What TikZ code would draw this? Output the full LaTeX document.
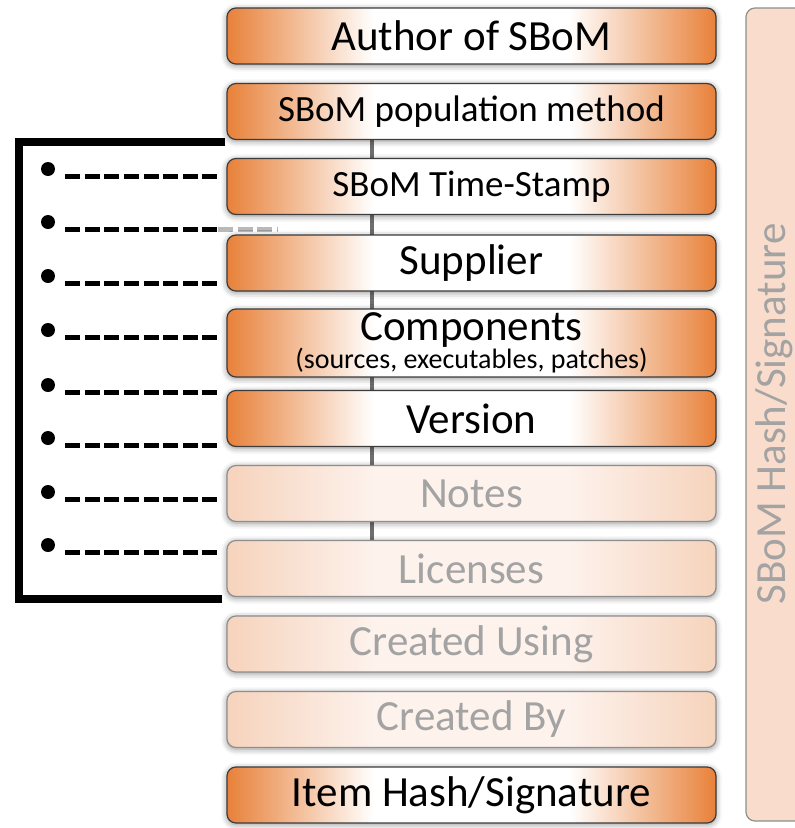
\documentclass[tikz,border=0pt]{standalone}
\usepackage{fontspec}
\setmainfont{Carlito}
\usepackage{xcolor}
\definecolor{SbomOrange}{HTML}{E8813A}
\definecolor{SbomPale}{HTML}{F6D3BC}
\definecolor{SbomPaleMid}{HTML}{FDF2EC}
\definecolor{ColPeach}{HTML}{F9DCCB}
\definecolor{ColPeachMid}{HTML}{FCEDE5}
\definecolor{EdgeGray}{HTML}{3C3C3C}
\definecolor{FadeGray}{HTML}{8E8E8E}
\definecolor{TextGray}{HTML}{A3A3A3}
\definecolor{SpineGray}{HTML}{6E6E6E}
\usepackage{tikz}
\usetikzlibrary{backgrounds, shadows.blur}
\pgfdeclarehorizontalshading{rowhot}{100bp}{color(0bp)=(SbomOrange); color(25bp)=(SbomOrange); color(40bp)=(white); color(60bp)=(white); color(75bp)=(SbomOrange); color(100bp)=(SbomOrange)}
\pgfdeclarehorizontalshading{rowfade}{100bp}{color(0bp)=(SbomPale); color(25bp)=(SbomPale); color(40bp)=(SbomPaleMid); color(60bp)=(SbomPaleMid); color(75bp)=(SbomPale); color(100bp)=(SbomPale)}
\newcommand{\tightlines}{\lineskiplimit=-100pt\relax}

\begin{document}
\begin{tikzpicture}[x=1pt, y=-1pt,
  rowbox/.style={draw=EdgeGray, line width=1.2pt, rounded corners=9pt,
    minimum width=489pt, minimum height=56pt, inner sep=0pt,
    shade, shading=rowhot,
    blur shadow={shadow xshift=0pt, shadow yshift=-1.5pt, shadow blur radius=6pt, shadow opacity=45},
    font=\fontsize{43}{45}\selectfont},
  fadebox/.style={rowbox, draw=FadeGray, shading=rowfade, text=TextGray},
  colbox/.style={draw=FadeGray, line width=1.2pt, rounded corners=9pt, inner sep=0pt,
    top color=ColPeach, middle color=ColPeachMid, bottom color=ColPeach},
  leaddot/.style={circle, fill=black, inner sep=0pt, minimum size=14pt},
  dashline/.style={line width=5pt, dash pattern=on 15pt off 4.6pt},
  bracket/.style={line width=8pt, line join=miter},
  spine/.style={line width=4pt, SpineGray}]
  \useasboundingbox (0,0) rectangle (795,828);

  % Bracket
  \draw[bracket] (225,142) -- (19,142) -- (19,599) -- (222,599);

  % Lead dots
  \foreach \y [count=\i] in {169,222,276,330,385,438,492,545}{
    \node[leaddot] (dot\i) at (48,\y) {};
    \coordinate (tip\i) at (218,\y+7);
    \draw[dashline] ([shift={(10,7)}]dot\i.east) -- (tip\i);
  }
  \coordinate (tail2) at (277,229);
  \draw[dashline, gray!55] (tip2) -- (tail2);

  % Fields
  \node[rowbox] (author) at (471.5,36) {Author of SBoM};
  \node[rowbox, font=\fontsize{37}{39}\selectfont] (popm) at (471.5,111.5) {SBoM population method};
  \node[rowbox, font=\fontsize{37}{39}\selectfont] (stamp) at (471.5,186.5) {SBoM Time-Stamp};
  \node[rowbox] (supp) at (471.5,263) {Supplier};
  \node[rowbox, minimum height=68pt, align=center, font=\fontsize{43}{22}\selectfont] (comp) at (471.5,343)
    {\tightlines Components\\{\fontsize{28}{22}\selectfont (sources, executables, patches)}};
  \node[rowbox] (vers) at (471.5,418.5) {Version};
  \node[fadebox] (notes) at (471.5,493.5) {Notes};
  \node[fadebox] (lic) at (471.5,568.5) {Licenses};
  \node[fadebox] (using) at (471.5,644) {Created Using};
  \node[fadebox] (by) at (471.5,719.5) {Created By};
  \node[rowbox] (item) at (471.5,795) {Item Hash/Signature};

  % Hash column
  \node[colbox, minimum width=64pt, minimum height=813pt] (hash) at (778,414.5) {};
  \node[rotate=90, anchor=base, inner sep=0pt, text=TextGray, font=\fontsize{43}{45}\selectfont] (hashText) at (785,414) {SBoM Hash/Signature};

  \begin{scope}[on background layer]
    \draw[spine] ([xshift=-99.5pt]popm.south) -- ([xshift=-99.5pt]lic.north);
  \end{scope}
\end{tikzpicture}
\end{document}
